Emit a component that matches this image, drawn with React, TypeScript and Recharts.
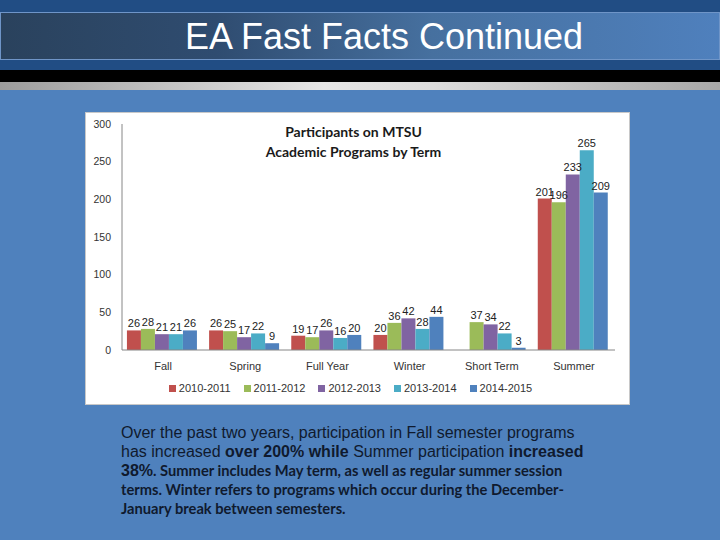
import React from "react";
import { BarChart, Bar, XAxis, YAxis, Legend, LabelList } from "recharts";

const terms = ["Fall", "Spring", "Full Year", "Winter", "Short Term", "Summer"];
const years = ["2010-2011", "2011-2012", "2012-2013", "2013-2014", "2014-2015"];
const y2010: (number | null)[] = [26, 26, 19, 20, null, 201];
const y2011 = [28, 25, 17, 36, 37, 196];
const y2012 = [21, 17, 26, 42, 34, 233];
const y2013 = [21, 22, 16, 28, 22, 265];
const y2014 = [26, 9, 20, 44, 3, 209];
const yTicks = [0, 50, 100, 150, 200, 250, 300];

const colors = ["#c0504d", "#9bbb59", "#8064a2", "#4bacc6", "#4f81bd"];
const seriesValues = [y2010, y2011, y2012, y2013, y2014];

const data = terms.map((term, i) => {
  const row: Record<string, string | number | null> = { term };
  years.forEach((yr, j) => {
    row[yr] = seriesValues[j][i];
  });
  return row;
});

const chartFont = "'Liberation Sans', Arial, sans-serif";

const renderLegend = (props: any) => {
  const { payload } = props;
  return (
    <div style={{ display: "flex", justifyContent: "center", paddingTop: 8, fontFamily: chartFont, fontSize: 11, color: "#333" }}>
      {payload.map((entry: any, i: number) => (
        <div key={i} style={{ display: "flex", alignItems: "center", marginRight: i < payload.length - 1 ? 13 : 0 }}>
          <span style={{ display: "inline-block", width: 7, height: 7, background: entry.color, marginRight: 3 }} />
          <span>{entry.value}</span>
        </div>
      ))}
    </div>
  );
};

const App: React.FC = () => {
  return (
    <div style={{ position: "absolute", left: 0, top: 0, width: 720, height: 540, background: "#4f81bd", overflow: "hidden" }}>
      {/* slide header bands */}
      <div style={{ position: "absolute", left: 0, top: 0, width: 720, height: 70, background: "#214d84" }} />
      <div
        style={{
          position: "absolute", left: 0, top: 12, width: 720, height: 48, boxSizing: "border-box",
          border: "1px solid #6f95c8",
          background: "linear-gradient(to right, #2a425d 0%, #2f4c70 30%, #46709f 60%, #4f80bd 100%)",
        }}
      />
      <div
        style={{
          position: "absolute", left: 0, top: 13, width: 720, height: 48, lineHeight: "48px", textAlign: "center",
          paddingLeft: 48, boxSizing: "border-box",
          color: "#fff", fontFamily: "'Liberation Sans', Arial, sans-serif", fontSize: 36,
        }}
      >
        EA Fast Facts Continued
      </div>
      <div style={{ position: "absolute", left: 0, top: 70, width: 720, height: 12, background: "#000" }} />
      <div
        style={{
          position: "absolute", left: 0, top: 82, width: 720, height: 8,
          background: "linear-gradient(to right, #9c9c9c 0%, #e6e6e6 45%, #dcdcdc 60%, #a8a8a8 100%)",
        }}
      />

      {/* chart picture */}
      <div
        style={{
          position: "absolute", left: 85, top: 112, width: 545, height: 293, background: "#fff",
          boxSizing: "border-box", border: "1px solid #c8c8c8",
        }}
      >
        <div
          style={{
            position: "absolute", left: 0, top: 9, width: 535, textAlign: "center",
            fontFamily: "Lato, sans-serif", fontWeight: 700, fontSize: 14, lineHeight: "20px", color: "#1a1a1a",
          }}
        >
          Participants on MTSU
          <br />
          Academic Programs by Term
        </div>
        <BarChart
          width={543}
          height={291}
          data={data}
          margin={{ top: 11, right: 14, left: 0, bottom: 0 }}
          barCategoryGap="6%"
          barGap={0}
        >
          <XAxis
            dataKey="term"
            height={24}
            tickLine={false}
            axisLine={{ stroke: "#868686" }}
            tick={{ fontSize: 11, fill: "#333", fontFamily: chartFont }}
            tickMargin={6}
          />
          <YAxis
            width={36}
            domain={[0, 300]}
            ticks={yTicks}
            tickLine={false}
            axisLine={{ stroke: "#868686" }}
            tick={{ fontSize: 10.5, fill: "#333", fontFamily: chartFont }}
            tickMargin={5}
          />
          <Legend verticalAlign="bottom" height={30} content={renderLegend} />
          {years.map((yr, j) => (
            <Bar key={yr} dataKey={yr} fill={colors[j]} isAnimationActive={false}>
              <LabelList dataKey={yr} position="top" offset={3} style={{ fontSize: 11, fill: "#222", fontFamily: chartFont }} />
            </Bar>
          ))}
        </BarChart>
      </div>

      {/* caption */}
      <div
        style={{
          position: "absolute", left: 121, top: 423, width: 560, color: "#0f1a2e", lineHeight: "19px",
        }}
      >
        <div style={{ fontFamily: "'Liberation Sans', Arial, sans-serif", fontSize: 16 }}>
          Over the past two years, participation in Fall semester programs
          <br />
          has increased <b>over 200% while</b> Summer participation <b>increased</b>
          <br />
          <b>38%</b>
          <span style={{ fontFamily: "Lato, sans-serif", fontSize: 14.7, fontWeight: 700 }}>
            . Summer includes May term, as well as regular summer session
            <br />
            terms. Winter refers to programs which occur during the December-
            <br />
            January break between semesters.
          </span>
        </div>
      </div>
    </div>
  );
};

export default App;
